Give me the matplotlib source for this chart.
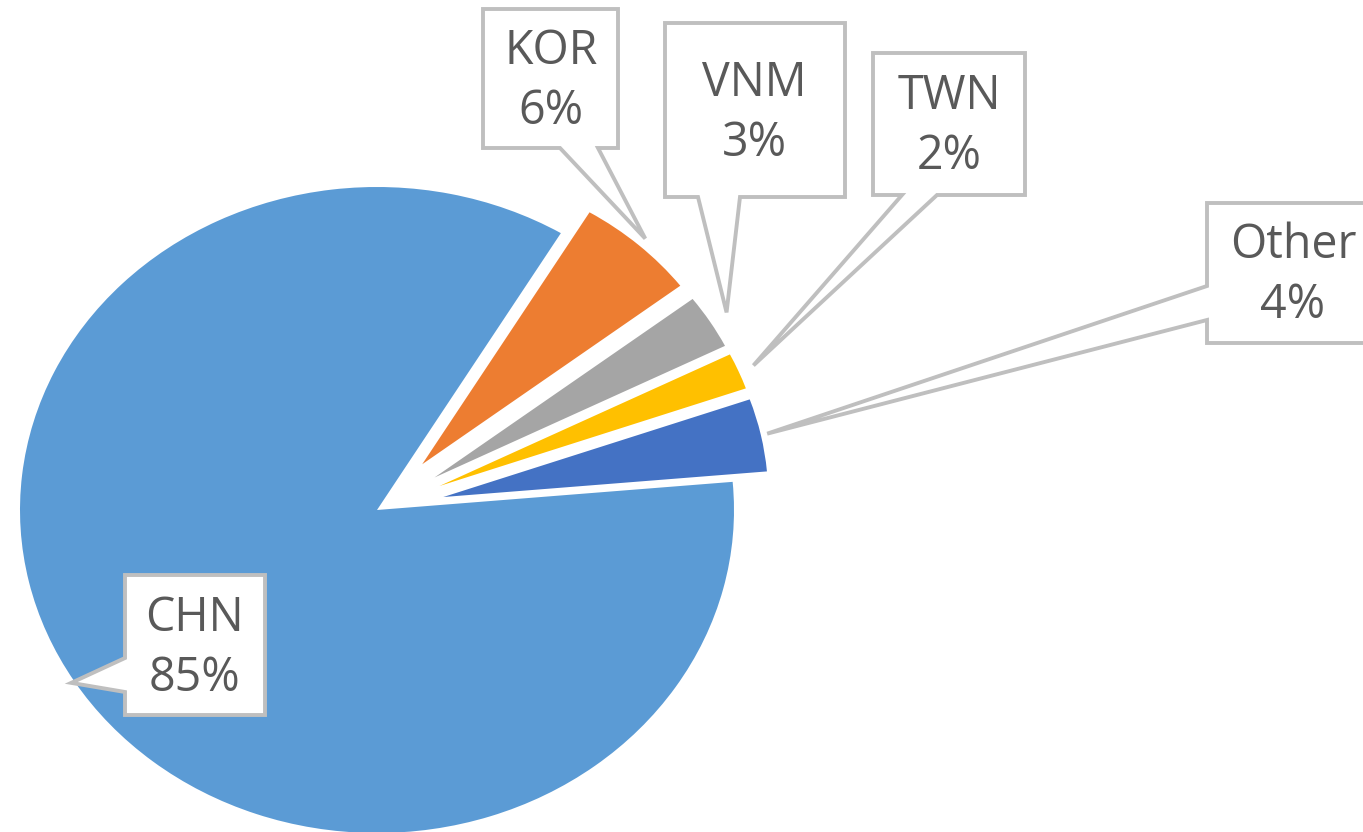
import matplotlib
matplotlib.use('Agg')
import matplotlib.pyplot as plt
from matplotlib.patches import Polygon
import numpy as np

labels = ['CHN', 'KOR', 'VNM', 'TWN', 'Other']
shares = [85, 6, 3, 2, 4]
colors = ['#5B9BD5', '#ED7D31', '#A5A5A5', '#FFC000', '#4472C4']

W, H = 1363, 832
fig = plt.figure(figsize=(W / 100, H / 100), dpi=100)
ax = fig.add_axes([0, 0, 1, 1])

# pixel -> data mapping (pie drawn in a stretched frame like the reference)
CX, CY, RX, RY = 377, 510, 357, 323


def d(px, py):
    return ((px - CX) / RX, (CY - py) / RY)


explode = [0.0] + [0.19] * (len(shares) - 1)
wedges, _ = ax.pie(shares, colors=colors, explode=explode, startangle=5,
                   counterclock=False, radius=1.0,
                   wedgeprops=dict(linewidth=0))
for w in wedges[1:]:
    w.set_radius(0.91)

ax.set_aspect('auto')
ax.set_xlim(d(0, 0)[0], d(W, 0)[0])
ax.set_ylim(d(0, H)[1], d(0, 0)[1])
ax.axis('off')

# callout layout (pixel boxes), pointer side and base
boxes = {'CHN': (125, 575, 265, 715), 'KOR': (483, 9, 618, 148),
         'VNM': (665, 23, 845, 197), 'TWN': (873, 53, 1025, 195),
         'Other': (1207, 203, 1390, 343)}
pointer = {'CHN': ('left', 658, 692), 'KOR': ('bottom', 560, 598),
           'VNM': ('bottom', 698, 740), 'TWN': ('bottom', 902, 937),
           'Other': ('left', 286, 320)}
text_pos = {'CHN': (194, 648), 'KOR': (551, 81), 'VNM': (754, 113),
            'TWN': (949, 126), 'Other': (1293, 275)}
tip_k = {'CHN': 1.01, 'KOR': 1.03, 'VNM': 1.06, 'TWN': 1.05, 'Other': 1.02}

for w, lab, v in zip(wedges, labels, shares):
    mid = np.deg2rad((w.theta1 + w.theta2) / 2)
    cx, cy = w.center
    k = tip_k[lab]
    tip = (cx + w.r * k * np.cos(mid), cy + w.r * k * np.sin(mid))
    x0, y0, x1, y1 = boxes[lab]
    side, a, b = pointer[lab]
    if side == 'bottom':
        pts = [d(x0, y0), d(x1, y0), d(x1, y1), d(b, y1), tip, d(a, y1), d(x0, y1)]
    else:
        pts = [d(x0, y0), d(x1, y0), d(x1, y1), d(x0, y1), d(x0, b), tip, d(x0, a)]
    ax.add_patch(Polygon(pts, closed=True, facecolor='white', edgecolor='#BFBFBF',
                         linewidth=2.8, joinstyle='miter', zorder=5))
    tx, ty = d(*text_pos[lab])
    ax.text(tx, ty, f"{lab}\n{v}%", ha='center', va='center', fontsize=33.5,
            color='#595959', linespacing=1.33,
            family=['Open Sans', 'DejaVu Sans'], zorder=6)

fig.savefig('out.png', dpi=100)
